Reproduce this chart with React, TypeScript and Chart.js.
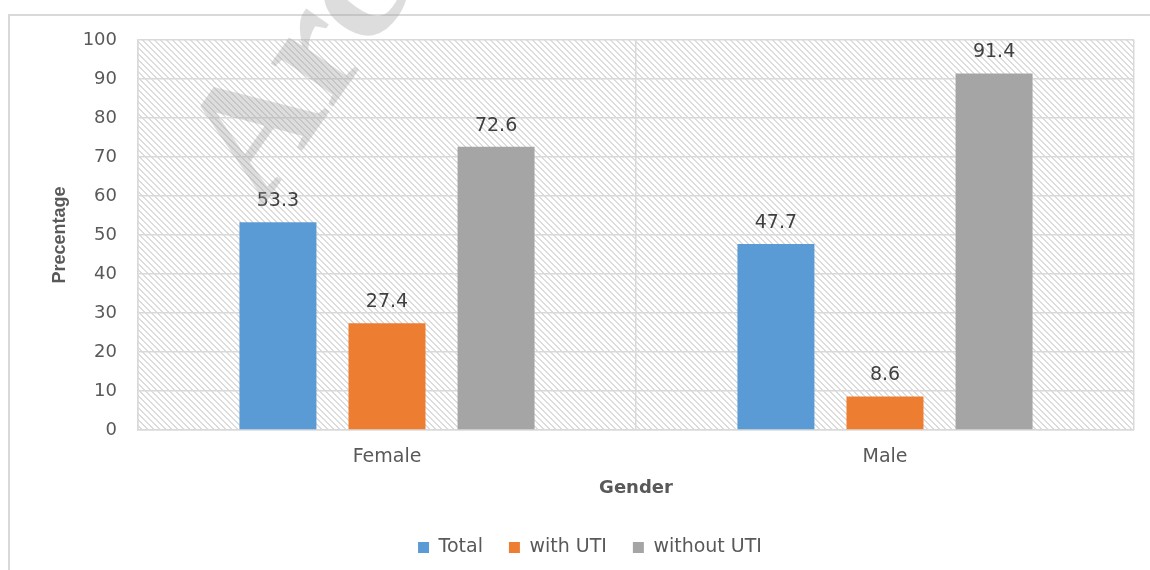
import React, { useEffect, useRef } from "react";
import { Chart, registerables } from "chart.js";

Chart.register(...registerables);

const categories = ["Female", "Male"];
const seriesNames = ["Total", "with UTI", "without UTI"];
const totalValues = [53.3, 47.7];
const withUtiValues = [27.4, 8.6];
const withoutUtiValues = [72.6, 91.4];
const seriesColors = ["#5B9BD5", "#ED7D31", "#A5A5A5"];
const yTicks = [0, 10, 20, 30, 40, 50, 60, 70, 80, 90, 100];

const FONT = "'DejaVu Sans', sans-serif";

function makeHatch(): CanvasPattern | string {
  const c = document.createElement("canvas");
  c.width = 6;
  c.height = 6;
  const g = c.getContext("2d");
  if (!g) return "#ffffff";
  g.fillStyle = "#ffffff";
  g.fillRect(0, 0, 6, 6);
  g.fillStyle = "#dcdcdc";
  for (let i = 0; i < 6; i++) {
    g.fillRect(i, i, 2, 1);
    if (i === 5) g.fillRect(0, 5, 1, 1);
  }
  const p = g.createPattern(c, "repeat");
  return p || "#ffffff";
}

const backgroundPlugin = {
  id: "bgHatch",
  beforeDraw(chart: any) {
    const { ctx, chartArea } = chart;
    ctx.save();
    ctx.fillStyle = "#ffffff";
    ctx.fillRect(0, 0, chart.width, chart.height);
    ctx.strokeStyle = "#d9d9d9";
    ctx.lineWidth = 2;
    ctx.beginPath();
    ctx.moveTo(9, chart.height);
    ctx.lineTo(9, 15);
    ctx.lineTo(chart.width, 15);
    ctx.stroke();
    ctx.fillStyle = makeHatch();
    ctx.fillRect(chartArea.left, chartArea.top, chartArea.right - chartArea.left, chartArea.bottom - chartArea.top);
    ctx.restore();
  },
};

const labelsPlugin = {
  id: "barLabels",
  afterDatasetsDraw(chart: any) {
    const { ctx } = chart;
    ctx.save();
    ctx.font = `19px ${FONT}`;
    ctx.fillStyle = "#404040";
    ctx.textAlign = "center";
    ctx.textBaseline = "middle";
    chart.data.datasets.forEach((ds: any, di: number) => {
      const meta = chart.getDatasetMeta(di);
      meta.data.forEach((bar: any, i: number) => {
        const v = ds.data[i];
        ctx.fillText(String(v), bar.x, bar.y - 21);
      });
    });
    ctx.restore();
  },
};

const watermarkPlugin = {
  id: "watermark",
  afterDraw(chart: any) {
    const { ctx } = chart;
    ctx.save();
    ctx.translate(262, 208);
    ctx.rotate((-55 * Math.PI) / 180);
    ctx.font = `bold 165px 'Liberation Serif', serif`;
    ctx.fillStyle = "rgba(160,160,160,0.36)";
    ctx.textAlign = "left";
    ctx.textBaseline = "alphabetic";
    ctx.fillText("Archive", 0, 0);
    ctx.restore();
  },
};

export default function App() {
  const ref = useRef<HTMLCanvasElement | null>(null);

  useEffect(() => {
    if (!ref.current) return;
    const valuesList = [totalValues, withUtiValues, withoutUtiValues];
    const chart = new Chart(ref.current, {
      type: "bar",
      data: {
        labels: categories,
        datasets: seriesNames.map((name, i) => ({
          label: name,
          data: valuesList[i],
          backgroundColor: seriesColors[i],
          borderWidth: 0,
          categoryPercentage: 0.657,
          barPercentage: 0.706,
        })),
      },
      options: {
        responsive: false,
        animation: false,
        layout: { padding: { left: 46, right: 16, top: 40, bottom: 3 } },
        plugins: {
          tooltip: { enabled: false },
          legend: {
            position: "bottom",
            labels: {
              boxWidth: 11,
              boxHeight: 11,
              padding: 26,
              color: "#595959",
              font: { family: FONT, size: 19 },
            },
          },
        },
        scales: {
          x: {
            grid: { color: "#d9d9d9", lineWidth: 1.5, drawTicks: false, offset: true },
            border: { color: "#d9d9d9", width: 1.5 },
            ticks: { color: "#595959", font: { family: FONT, size: 19 }, padding: 16 },
            title: {
              display: true,
              text: "Gender",
              color: "#595959",
              font: { family: FONT, size: 18, weight: "bold" },
              padding: { top: 0, bottom: 13 },
            },
            afterFit: (scale: any) => {
              scale.height = 82;
            },
          },
          y: {
            min: 0,
            max: 100,
            afterBuildTicks: (scale: any) => {
              scale.ticks = yTicks.map((v) => ({ value: v }));
            },
            grid: { color: "#d9d9d9", lineWidth: 1.5, drawTicks: false },
            border: { color: "#d9d9d9", width: 1.5 },
            ticks: { color: "#595959", font: { family: FONT, size: 18 }, padding: 21 },
            title: {
              display: true,
              text: "Precentage",
              color: "#595959",
              font: { family: "'Liberation Sans', sans-serif", size: 18, weight: "bold" },
              padding: { top: 3, bottom: 0 },
            },
            afterFit: (scale: any) => {
              scale.width = 92;
            },
          },
        },
      },
      plugins: [backgroundPlugin, labelsPlugin, watermarkPlugin],
    });
    return () => chart.destroy();
  }, []);

  return (
    <div style={{ position: "absolute", left: 0, top: 0, width: 1150, height: 570 }}>
      <canvas ref={ref} width={1150} height={570} style={{ display: "block" }} />
    </div>
  );
}
